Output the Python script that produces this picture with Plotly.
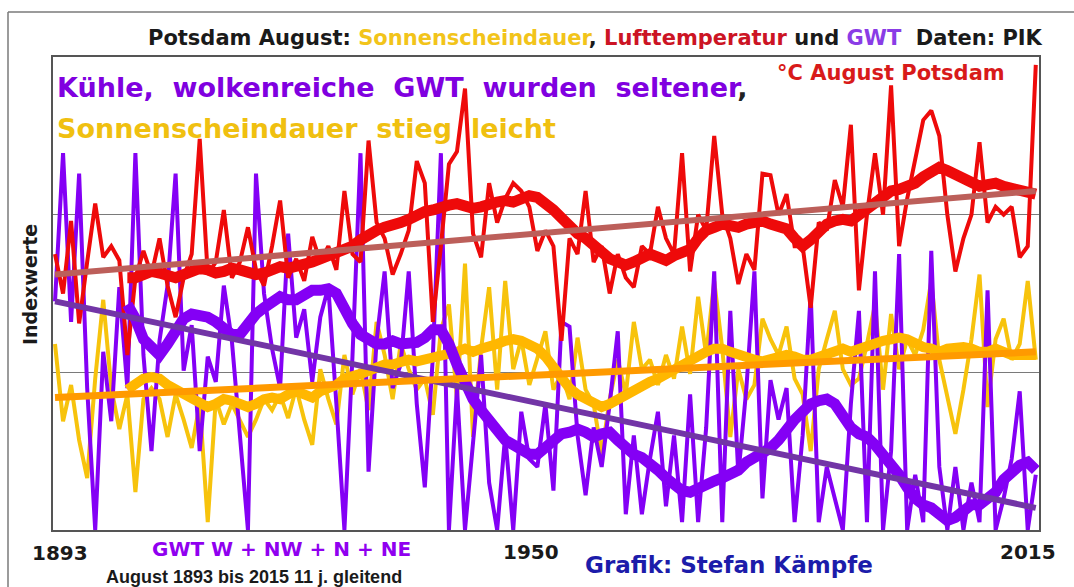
import plotly.graph_objects as go

years = list(range(1893, 2016))

# Raw August values (index units)
temp_raw = [
    1.75, 1.50, 1.96, 1.31, 1.70, 2.07, 1.73, 1.80, 1.71, 1.11,
    1.60, 1.77, 1.62, 1.85, 1.55, 1.35, 1.60, 1.75, 2.48, 1.62,
    1.70, 2.03, 1.60, 1.70, 1.92, 1.65, 1.55, 1.80, 2.09, 1.60,
    1.72, 1.58, 1.86, 1.70, 1.80, 1.65, 2.15, 1.75, 1.70, 2.47,
    1.95, 1.85, 1.62, 1.75, 1.90, 2.34, 2.20, 1.32, 1.80, 2.32,
    2.40, 2.80, 1.88, 1.73, 2.20, 1.95, 2.10, 2.20, 2.15, 2.05,
    1.77, 1.90, 1.80, 1.20, 1.85, 1.75, 2.15, 1.70, 1.80, 1.50,
    1.75, 1.60, 1.54, 1.80, 1.75, 2.05, 1.85, 1.75, 2.39, 1.64,
    2.00, 1.90, 2.50, 2.00, 1.85, 1.56, 1.75, 1.65, 2.26, 2.25,
    2.00, 2.13, 1.80, 1.80, 1.41, 1.95, 1.90, 2.22, 2.05, 2.57,
    1.52, 2.00, 2.39, 2.00, 2.82, 1.80, 2.10, 2.35, 2.60, 2.66,
    2.50, 2.00, 1.64, 1.85, 2.00, 2.46, 1.95, 2.05, 2.00, 2.05,
    1.73, 1.80, 2.95,
]

gwt_raw = [
    1.45, 2.39, 1.32, 2.26, 0.90, 0.00, 1.13, 0.69, 1.54, 0.90,
    2.39, 1.11, 0.50, 1.20, 1.55, 2.26, 1.01, 1.30, 0.50, 1.10,
    0.94, 1.55, 1.20, 0.60, 0.00, 2.26, 1.50, 1.15, 0.90, 1.88,
    1.22, 1.40, 0.94, 1.35, 1.54, 0.80, 0.00, 1.10, 2.39, 0.37,
    1.20, 1.64, 0.90, 1.05, 1.64, 0.80, 0.27, 1.10, 2.39, 0.00,
    0.90, 0.00, 0.55, 1.11, 0.30, 0.00, 0.60, 0.00, 0.75, 0.45,
    0.40, 0.80, 0.25, 1.32, 1.29, 0.60, 0.22, 0.65, 0.40, 0.80,
    1.26, 0.10, 0.60, 0.10, 0.45, 0.75, 0.15, 0.60, 0.05, 0.86,
    0.05, 0.65, 1.64, 0.05, 1.39, 0.35, 0.90, 1.64, 0.20, 0.95,
    0.70, 0.90, 0.05, 0.60, 1.50, 0.05, 0.40, 0.20, 0.00, 0.80,
    1.39, 0.05, 1.64, 0.00, 0.50, 1.75, 0.00, 0.35, 0.05, 1.77,
    0.40, 0.00, 0.40, 0.00, 0.30, 0.05, 1.52, 0.00, 0.20, 0.45,
    0.88, 0.00, 0.35,
]

sun_raw = [
    1.18, 0.69, 0.92, 0.57, 0.33, 0.96, 1.46, 0.90, 0.64, 0.86,
    0.24, 0.83, 0.90, 0.83, 0.59, 0.86, 0.70, 0.52, 0.80, 0.05,
    0.83, 0.67, 0.80, 0.70, 0.59, 0.70, 0.83, 0.76, 0.86, 0.71,
    0.90, 0.70, 0.54, 1.02, 0.83, 0.67, 1.11, 0.86, 1.02, 0.76,
    1.32, 1.11, 0.83, 1.18, 1.02, 0.89, 0.96, 0.73, 1.27, 1.43,
    0.83, 1.69, 0.59, 1.15, 1.54, 0.89, 1.58, 1.02, 1.21, 0.92,
    1.08, 1.26, 0.89, 0.99, 0.83, 1.22, 0.89, 0.80, 0.48, 0.83,
    1.08, 0.86, 1.32, 1.02, 1.08, 0.92, 1.11, 0.96, 1.29, 0.99,
    1.48, 1.11, 1.58, 1.15, 0.59, 1.02, 0.83, 0.92, 1.34, 1.21,
    1.11, 1.29, 0.96, 0.86, 0.50, 1.02, 1.21, 1.39, 1.02, 0.92,
    0.96, 1.18, 1.43, 0.89, 1.37, 1.02, 1.21, 1.11, 1.27, 1.58,
    1.08, 0.83, 0.61, 0.89, 1.21, 1.62, 0.78, 1.21, 1.34, 1.08,
    1.18, 1.58, 1.08,
]

# 11-year gliding values, starting 1902
N = None
temp_smooth = [N] * 9 + [
    1.60,
    1.60, 1.62, 1.64, 1.63, 1.61, 1.60, 1.62, 1.64, 1.66, 1.65,
    1.63, 1.64, 1.66, 1.65, 1.63, 1.62, 1.63, 1.65, 1.67, 1.66,
    1.67, 1.68, 1.70, 1.72, 1.74, 1.75, 1.78, 1.80, 1.84, 1.88,
    1.90, 1.92, 1.93, 1.95, 1.97, 2.00, 2.02, 2.03, 2.05, 2.06,
    2.07, 2.05, 2.04, 2.05, 2.07, 2.08, 2.09, 2.08, 2.10, 2.12,
    2.11, 2.08, 2.03, 1.98, 1.92, 1.88, 1.85, 1.80, 1.75, 1.72,
    1.70, 1.68, 1.70, 1.72, 1.75, 1.73, 1.71, 1.74, 1.77, 1.78,
    1.85, 1.90, 1.92, 1.94, 1.93, 1.92, 1.94, 1.95, 1.96, 1.94,
    1.92, 1.91, 1.85, 1.80, 1.84, 1.90, 1.94, 1.96, 1.97, 1.96,
    2.00, 2.05, 2.08, 2.12, 2.15, 2.16, 2.18, 2.20, 2.24, 2.27,
    2.30, 2.28, 2.25, 2.22, 2.20, 2.18, 2.19, 2.20, 2.18, 2.17,
    2.16, 2.15, 2.13,
]

gwt_smooth = [N] * 9 + [
    1.43,
    1.34, 1.21, 1.15, 1.11, 1.18, 1.27, 1.34, 1.37, 1.36, 1.35,
    1.32, 1.27, 1.24, 1.24, 1.31, 1.37, 1.41, 1.45, 1.48, 1.46,
    1.46, 1.49, 1.52, 1.52, 1.53, 1.50, 1.40, 1.31, 1.24, 1.21,
    1.18, 1.18, 1.20, 1.18, 1.18, 1.19, 1.22, 1.27, 1.27, 1.18,
    1.05, 0.92, 0.83, 0.76, 0.70, 0.64, 0.57, 0.54, 0.50, 0.48,
    0.48, 0.52, 0.57, 0.61, 0.62, 0.64, 0.62, 0.59, 0.61, 0.62,
    0.57, 0.52, 0.48, 0.46, 0.43, 0.38, 0.33, 0.29, 0.25, 0.24,
    0.27, 0.29, 0.31, 0.33, 0.35, 0.38, 0.43, 0.46, 0.48, 0.52,
    0.57, 0.64, 0.70, 0.75, 0.80, 0.82, 0.83, 0.80, 0.72, 0.65,
    0.61, 0.59, 0.54, 0.48, 0.41, 0.35, 0.27, 0.20, 0.16, 0.14,
    0.10, 0.06, 0.08, 0.11, 0.16, 0.16, 0.19, 0.24, 0.32, 0.37,
    0.41, 0.43, 0.38,
]

sun_smooth = [N] * 9 + [
    0.89,
    0.92, 0.96, 0.97, 0.96, 0.92, 0.89, 0.86, 0.83, 0.80, 0.78,
    0.80, 0.83, 0.82, 0.80, 0.78, 0.80, 0.83, 0.84, 0.83, 0.86,
    0.88, 0.86, 0.84, 0.88, 0.90, 0.92, 0.96, 0.97, 0.99, 1.01,
    1.03, 1.05, 1.05, 1.07, 1.08, 1.07, 1.08, 1.10, 1.11, 1.11,
    1.13, 1.15, 1.13, 1.15, 1.16, 1.18, 1.20, 1.21, 1.20, 1.18,
    1.15, 1.10, 1.03, 0.97, 0.90, 0.86, 0.83, 0.80, 0.78, 0.80,
    0.83, 0.86, 0.89, 0.92, 0.94, 0.96, 0.99, 1.02, 1.05, 1.08,
    1.11, 1.13, 1.15, 1.15, 1.13, 1.11, 1.10, 1.08, 1.07, 1.08,
    1.10, 1.11, 1.10, 1.08, 1.08, 1.10, 1.11, 1.13, 1.15, 1.13,
    1.15, 1.16, 1.18, 1.20, 1.21, 1.22, 1.21, 1.18, 1.16, 1.15,
    1.13, 1.15, 1.16, 1.16, 1.15, 1.13, 1.13, 1.15, 1.13, 1.11,
    1.11, 1.11, 1.11,
]

# Linear trends (start / end values)
trend_years = [1893, 2015]
temp_trend = [1.62, 2.15]
gwt_trend = [1.45, 0.14]
sun_trend = [0.84, 1.13]

# Colours
C_TEMP = "#EE0A0A"
C_GWT = "#8400F5"
C_SUN = "#F7C30C"
C_SUN_S = "#FFB700"
C_TEMP_T = "#BC5F5A"
C_GWT_T = "#7235A6"
C_SUN_T = "#FF9A00"

fig = go.Figure()

def add(y, color, width, x=years):
    fig.add_trace(go.Scatter(x=x, y=y, mode="lines", line=dict(color=color, width=width),
                             connectgaps=False, hoverinfo="skip", showlegend=False))

add(sun_raw, C_SUN, 4)
add(gwt_raw, C_GWT, 4)
add(temp_raw, C_TEMP, 4)
add(sun_smooth, C_SUN_S, 10)
add(gwt_smooth, C_GWT, 11)
add(temp_smooth, C_TEMP, 11)
add(temp_trend, C_TEMP_T, 6, trend_years)
add(gwt_trend, C_GWT_T, 6, trend_years)
add(sun_trend, C_SUN_T, 7, trend_years)

W, H = 1074, 587
ML, MR, MT, MB = 53, 35, 57, 57
PW, PH = W - ML - MR, H - MT - MB

def px(x):
    return (x - ML) / PW

def py(y):
    return (H - MB - y) / PH

FONT = "Liberation Sans, Arial, sans-serif"
BIG = "DejaVu Sans, Liberation Sans, sans-serif"

ann = []
def text(t, x, y, size, color="#1a1a1a", xanchor="center", family=BIG, angle=0):
    ann.append(dict(text=t, x=px(x), y=py(y), xref="paper", yref="paper", showarrow=False,
                    xanchor=xanchor, yanchor="middle", textangle=angle,
                    font=dict(size=size, color=color, family=family)))

title = ("<b>Potsdam August: <span style='color:#F2C41A'>Sonnenscheindauer</span>, "
         "<span style='color:#CC1424'>Lufttemperatur</span> und "
         "<span style='color:#8A3CE6'>GWT</span>\u00a0\u00a0Daten: PIK</b>")
text(title, 595, 38, 21)
text("<b>Kühle,\u00a0 wolkenreiche\u00a0 GWT\u00a0 wurden\u00a0 seltener<span style='color:#222'>,</span></b>",
     55, 88, 27, "#8000E0", "left")
text("<b>Sonnenscheindauer\u00a0 stieg\u00a0 leicht</b>", 55, 128, 27, "#F0C010", "left")
text("<b>°C August Potsdam</b>", 775, 73, 21, "#D81A1A", "left")
text("<b>Indexwerte</b>", 30, 285, 19, "#1a1a1a", "center", BIG, -90)
text("<b>1893</b>", 60, 553, 20)
text("<b>GWT W + NW + N + NE</b>", 281, 549, 20, "#9000F0")
text("<b>1950</b>", 531, 552, 20)
text("<b>August 1893 bis 2015 11 j. gleitend</b>", 254, 577, 18, "#1a1a1a", "center", FONT)
text("<b>Grafik: Stefan Kämpfe</b>", 583, 565, 23, "#1C1CAA", "left")
text("<b>2015</b>", 1028, 552, 20)

shapes = [
    dict(type="line", xref="paper", yref="paper", x0=px(8), x1=px(1080), y0=py(12), y1=py(12),
         line=dict(color="#7a7a7a", width=1.5)),
    dict(type="line", xref="paper", yref="paper", x0=px(8), x1=px(8), y0=py(12), y1=py(600),
         line=dict(color="#7a7a7a", width=1.5)),
]

fig.update_layout(
    width=W, height=H,
    margin=dict(l=ML, r=MR, t=MT, b=MB),
    paper_bgcolor="white", plot_bgcolor="white",
    annotations=ann, shapes=shapes,
    xaxis=dict(range=[1892.75, 2015.4], showgrid=False, zeroline=False, showticklabels=False,
               ticks="", showline=True, mirror=True, linecolor="#555555", linewidth=1.5),
    yaxis=dict(range=[0, 3], dtick=1, showgrid=True, gridcolor="#7a7a7a", gridwidth=1,
               zeroline=False, showticklabels=False, ticks="", showline=True, mirror=True,
               linecolor="#555555", linewidth=1.5),
)

fig.write_html("out.html", config={"displayModeBar": False},
               post_script="document.body.style.margin='0';document.body.style.overflow='hidden';")
